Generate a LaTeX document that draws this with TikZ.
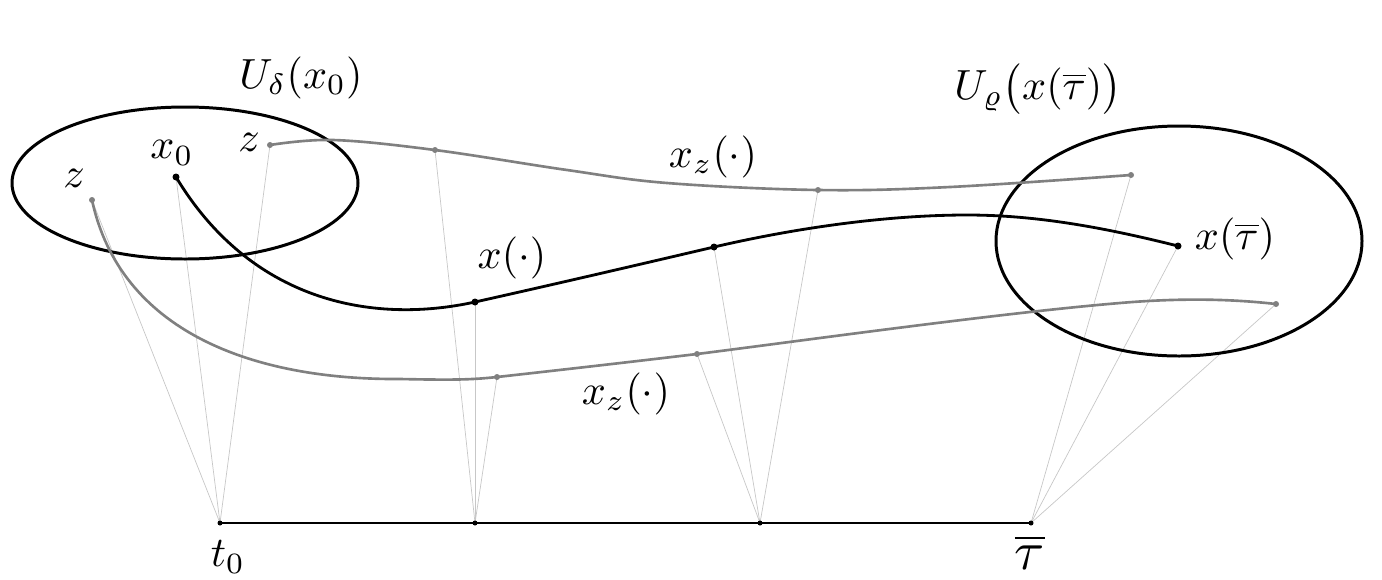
\documentclass[tikz,border=0pt]{standalone}
\begin{document}
\begin{tikzpicture}[x=0.02cm,y=-0.02cm,
  thinline/.style={draw=black!22,line width=0.4pt},
  blackcurve/.style={draw=black,line width=1.6pt},
  graycurve/.style={draw=black!50,line width=1.5pt},
  nbhd/.style={draw=black,line width=1.7pt},
  axisline/.style={draw=black,line width=0.8pt},
  lbl/.style={scale=2.4,inner sep=0pt}]
\useasboundingbox (0,0) rectangle (1382,579);
% points
\coordinate (z1) at (92,200);
\coordinate (x0) at (176,177);
\coordinate (z2) at (270,145);
\coordinate (a1) at (435,150);
\coordinate (a2) at (818,190);
\coordinate (a3) at (1131,175);
\coordinate (b1) at (475,302);
\coordinate (b2) at (714,247);
\coordinate (xt) at (1178,246);
\coordinate (c1) at (497,377);
\coordinate (c2) at (697,354);
\coordinate (c3) at (1276,304);
\coordinate (t0) at (220,523);
\coordinate (t1) at (475,523);
\coordinate (t2) at (760,523);
\coordinate (t3) at (1031,523);
% thin connectors
\foreach \p in {z1,x0,z2} \draw[thinline] (t0) -- (\p);
\foreach \p in {a1,b1,c1} \draw[thinline] (t1) -- (\p);
\foreach \p in {b2,c2,a2} \draw[thinline] (t2) -- (\p);
\foreach \p in {a3,xt,c3} \draw[thinline] (t3) -- (\p);
% neighbourhoods
\draw[nbhd] (185,183) ellipse [x radius=173, y radius=76];
\draw[nbhd] (1179,241) ellipse [x radius=183, y radius=115];
% curves
\draw[graycurve] plot[smooth,tension=0.6] coordinates {(z2) (333,140) (a1) (567,170) (667,183) (a2) (950,187) (a3)};
\draw[blackcurve] (x0) .. controls (250,300) and (370,325) .. (b1)
  .. controls (560,283) and (650,262) .. (b2)
  .. controls (800,227) and (890,215) .. (967,215)
  .. controls (1040,215) and (1110,229) .. (xt);
\draw[graycurve] (z1) .. controls (120,330) and (250,380) .. (400,379)
  .. controls (450,380) and (470,380) .. (c1)
  .. controls (560,370) and (630,362) .. (c2)
  .. controls (800,341) and (1000,313) .. (1120,303)
  .. controls (1190,297) and (1240,300) .. (c3);
% time axis
\draw[axisline] (t0) -- (t1) -- (t2) -- (t3);
% dots
\foreach \p in {z1,z2,a1,a2,a3,c1,c2,c3} \fill[black!50] (\p) circle[radius=3];
\foreach \p in {x0,b1,b2,xt} \fill[black] (\p) circle[radius=3.5];
\foreach \p in {t0,t1,t2,t3} \fill[black] (\p) circle[radius=2.5];
% labels
\node[lbl] (lU1) at (301,78) {$U_\delta(x_0)$};
\node[lbl] (lU2) at (1038,89) {$U_\varrho\big(x(\overline{\tau})\big)$};
\node[lbl] (lxt) at (1235,239) {$x(\overline{\tau})$};
\node[lbl] (lx0) at (172,153) {$x_0$};
\node[lbl] (lz1) at (74,178) {$z$};
\node[lbl] (lz2) at (249,142) {$z$};
\node[lbl] (lxz1) at (713,157) {$x_z(\cdot)$};
\node[lbl] (lx) at (512,258) {$x(\cdot)$};
\node[lbl] (lxz2) at (626,394) {$x_z(\cdot)$};
\node[lbl] (lt0) at (228,557) {$t_0$};
\node[lbl,scale=1.3] (ltau) at (1030,552) {$\overline{\tau}$};
\end{tikzpicture}
\end{document}
